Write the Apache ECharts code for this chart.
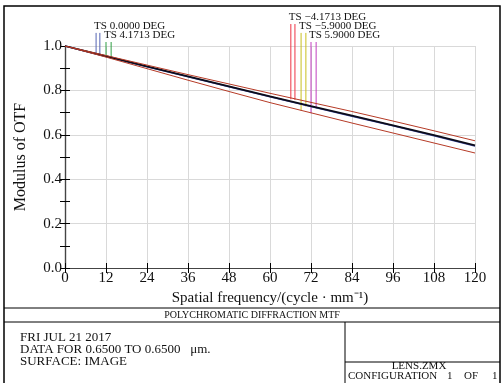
<!DOCTYPE html>
<html>
<head>
<meta charset="utf-8">
<script src="https://cdn.jsdelivr.net/npm/echarts@6/dist/echarts.min.js"></script>
<style>
  html, body { margin: 0; padding: 0; background: #fff; }
  #chart { width: 504px; height: 383px; }
</style>
</head>
<body>
<div id="chart"></div>
<script>
// 空间频率 (cycle/mm)
var freq = [0, 12, 24, 36, 48, 60, 72, 84, 96, 108, 120];
// MTF 曲线
var upperMTF = [1.0, 0.957, 0.914, 0.871, 0.829, 0.787, 0.746, 0.705, 0.662, 0.618, 0.573];
var diffMTF  = [1.0, 0.954, 0.908, 0.863, 0.818, 0.773, 0.729, 0.686, 0.643, 0.598, 0.552];
var axisMTF  = [1.0, 0.953, 0.906, 0.861, 0.816, 0.771, 0.727, 0.684, 0.641, 0.596, 0.549];
var lowerMTF = [1.0, 0.950, 0.898, 0.846, 0.795, 0.745, 0.699, 0.653, 0.608, 0.563, 0.518];

// 视场图例竖线：x 位置、底端、顶端、颜色
var fieldLabels = ['TS 0.0000 DEG', 'TS 4.1713 DEG', 'TS \u22124.1713 DEG', 'TS \u22125.9000 DEG', 'TS 5.9000 DEG'];
var fieldColors = ['#5564b4', '#2f9e44', '#ee3344', '#c9bf1e', '#c23fbf'];
var markX      = [[9.1, 10.2], [12.0, 13.5], [66.1, 67.3], [69.1, 70.5], [72.0, 73.5]];
var markBottom = [[0.962, 0.957], [0.952, 0.946], [0.760, 0.757], [0.709, 0.727], [0.697, 0.719]];
var markTop    = [1.059, 1.018, 1.099, 1.059, 1.018];

var serif = 'Liberation Serif';

function pairs(ys) {
    return freq.map(function (f, i) { return [f, ys[i]]; });
}

var markData = [];
fieldLabels.forEach(function (name, i) {
    markData.push([markX[i][0], markBottom[i][0], markTop[i], i, 1]);
    markData.push([markX[i][1], markBottom[i][1], markTop[i], i, 0]);
});

var myChart = echarts.init(document.getElementById('chart'));

var axisBase = {
    type: 'value',
    axisLine: { show: true, lineStyle: { color: '#444', width: 1.2 } },
    axisTick: { show: true, inside: true, length: 5, lineStyle: { color: '#000' } },
    splitLine: { show: false }
};

function txt(x, y, s, size, align) {
    return { type: 'text', x: x, y: y, style: { text: s, fill: '#111', font: size + 'px "Liberation Serif"', align: align || 'left', verticalAlign: 'middle' } };
}
function ln(x1, y1, x2, y2) {
    return { type: 'line', shape: { x1: x1, y1: y1, x2: x2, y2: y2 }, style: { stroke: '#000', lineWidth: 1 } };
}

myChart.setOption({
    animation: false,
    backgroundColor: '#fff',
    grid: { left: 65, right: 29, top: 46, bottom: 115 },
    xAxis: [
        Object.assign({}, axisBase, {
            min: 0, max: 120, interval: 12,
            axisLabel: { color: '#111', fontFamily: serif, fontSize: 15, margin: 3 },
            splitLine: { show: true, lineStyle: { color: '#d9d9d9', width: 1 } },
            name: 'Spatial frequency/(cycle \u00b7 mm\u207b\u00b9)',
            nameLocation: 'middle',
            nameGap: 20,
            nameTextStyle: { color: '#111', fontFamily: serif, fontSize: 15, verticalAlign: 'top' }
        }),
        Object.assign({}, axisBase, {
            position: 'top', min: 0, max: 120, interval: 12,
            axisLabel: { show: false }
        })
    ],
    yAxis: [
        Object.assign({}, axisBase, {
            min: 0, max: 1, interval: 0.1,
            axisLabel: {
                color: '#111', fontFamily: serif, fontSize: 15, margin: 3,
                formatter: function (v) {
                    var k = Math.round(v * 10);
                    return k % 2 === 0 ? v.toFixed(1) : '';
                }
            },
            name: 'Modulus of OTF',
            nameLocation: 'middle',
            nameGap: 36,
            nameRotate: 90,
            nameTextStyle: { color: '#111', fontFamily: serif, fontSize: 16 }
        }),
        Object.assign({}, axisBase, {
            position: 'right', min: 0, max: 1, interval: 0.1,
            axisLabel: { show: false }
        }),
        {
            // 只画 0.2 间隔的网格线
            type: 'value', position: 'right', min: 0, max: 1, interval: 0.2,
            axisLine: { show: false }, axisTick: { show: false }, axisLabel: { show: false },
            splitLine: { show: true, lineStyle: { color: '#d9d9d9', width: 1 } }
        }
    ],
    series: [
        { type: 'line', data: pairs(axisMTF), showSymbol: false, lineStyle: { color: '#3a48a0', width: 1.5 } },
        { type: 'line', data: pairs(diffMTF), showSymbol: false, lineStyle: { color: '#0c0c1a', width: 1.8 } },
        { type: 'line', data: pairs(upperMTF), showSymbol: false, lineStyle: { color: '#b53a26', width: 1 } },
        { type: 'line', data: pairs(lowerMTF), showSymbol: false, lineStyle: { color: '#b53a26', width: 1 } },
        {
            // 视场标注竖线和文字
            type: 'custom',
            clip: false,
            data: markData,
            renderItem: function (params, api) {
                var x = api.value(0), yb = api.value(1), yt = api.value(2);
                var idx = api.value(3), first = api.value(4);
                var p0 = api.coord([x, yb]);
                var p1 = api.coord([x, yt]);
                var children = [{
                    type: 'line',
                    shape: { x1: p0[0], y1: p0[1], x2: p1[0], y2: p1[1] },
                    style: { stroke: fieldColors[idx], lineWidth: 1 }
                }];
                if (first) {
                    children.push({
                        type: 'text',
                        x: p1[0] - 2, y: p1[1] - 1,
                        style: {
                            text: fieldLabels[idx], fill: '#111',
                            font: '11px "Liberation Serif"',
                            align: 'left', verticalAlign: 'bottom'
                        }
                    });
                }
                return { type: 'group', children: children };
            }
        }
    ],
    graphic: [
        { type: 'rect', shape: { x: 4, y: 6, width: 496, height: 384 }, style: { fill: null, stroke: '#000', lineWidth: 1.5 } },
        ln(4, 308, 500, 308),
        ln(4, 322, 500, 322),
        ln(345, 322, 345, 390),
        ln(345, 362, 500, 362),
        txt(252, 315, 'POLYCHROMATIC DIFFRACTION MTF', 10, 'center'),
        txt(20, 338, 'FRI JUL 21 2017', 13),
        txt(20, 350, 'DATA FOR 0.6500 TO 0.6500   \u03bcm.', 13),
        txt(20, 362, 'SURFACE: IMAGE', 13),
        txt(419, 366, 'LENS.ZMX', 11, 'center'),
        txt(348, 376, 'CONFIGURATION', 11),
        txt(447, 376, '1', 11),
        txt(464, 376, 'OF', 11),
        txt(492, 376, '1', 11)
    ]
});
</script>
</body>
</html>
